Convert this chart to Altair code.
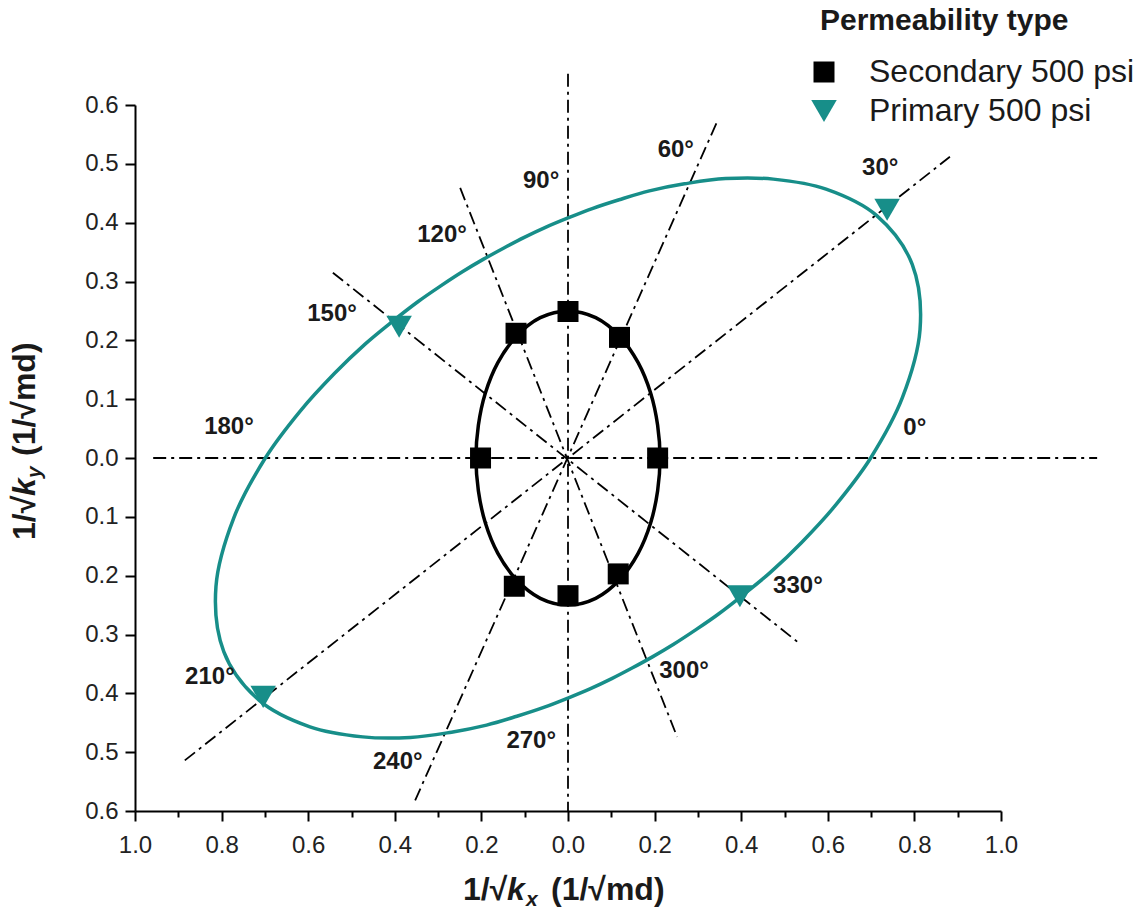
import altair as alt
import pandas as pd

# ---------------- data ----------------
# Secondary 500 psi (black squares)
sec_x = [0.207, 0.119, 0.000, -0.120, -0.202, -0.124, 0.000, 0.116]
sec_y = [0.000, 0.205, 0.249, 0.212, 0.000, -0.218, -0.234, -0.197]

# Primary 500 psi (teal down-triangles)
pri_x = [0.737, -0.390, -0.704, 0.397]
pri_y = [0.422, 0.223, -0.406, -0.235]

# fitted ellipse (teal), upper half then lower half
teal_x = [0.699, 0.772, 0.813, 0.795, 0.713, 0.596, 0.474, 0.364, 0.269, 0.188, 0.118, 0.056,
          0.000, -0.052, -0.101, -0.148, -0.195, -0.243, -0.293, -0.346, -0.404, -0.468, -0.539, -0.617,
          -0.699, -0.772, -0.813, -0.795, -0.713, -0.596, -0.474, -0.364, -0.269, -0.188, -0.118, -0.056,
          0.000, 0.052, 0.101, 0.148, 0.195, 0.243, 0.293, 0.346, 0.404, 0.468, 0.539, 0.617]
teal_y = [0.000, 0.102, 0.218, 0.329, 0.412, 0.457, 0.474, 0.475, 0.466, 0.454, 0.439, 0.424,
          0.408, 0.392, 0.375, 0.357, 0.338, 0.317, 0.293, 0.266, 0.233, 0.194, 0.144, 0.081,
          0.000, -0.102, -0.218, -0.329, -0.412, -0.457, -0.474, -0.475, -0.466, -0.454, -0.439, -0.424,
          -0.408, -0.392, -0.375, -0.357, -0.338, -0.317, -0.293, -0.266, -0.233, -0.194, -0.144, -0.081]

# fitted ellipse (black)
blk_x = [0.2125, 0.207, 0.191, 0.162, 0.119, 0.064, 0.000, -0.064, -0.119, -0.162, -0.191, -0.207,
         -0.2125, -0.207, -0.191, -0.162, -0.119, -0.064, 0.000, 0.064, 0.119, 0.162, 0.191, 0.207]
blk_y = [0.000, 0.0555, 0.110, 0.162, 0.207, 0.2385, 0.250, 0.2385, 0.207, 0.162, 0.110, 0.0555,
         0.000, -0.0555, -0.110, -0.162, -0.207, -0.2385, -0.250, -0.2385, -0.207, -0.162, -0.110, -0.0555]

# direction lines (segment end points)
ray_x1 = [-0.958, 0.000, -0.885, -0.353, -0.249, -0.543]
ray_y1 = [0.000, 0.653, -0.514, -0.582, 0.459, 0.315]
ray_x2 = [1.222, 0.000, 0.882, 0.344, 0.252, 0.536]
ray_y2 = [0.000, -0.600, 0.512, 0.571, -0.474, -0.316]

# angle labels
ang_text = ["0°", "30°", "60°", "90°", "120°", "150°", "180°", "210°", "240°", "270°", "300°", "330°"]
ang_x = [0.801, 0.721, 0.249, -0.062, -0.291, -0.545, -0.783, -0.827, -0.393, -0.085, 0.268, 0.531]
ang_y = [0.051, 0.493, 0.524, 0.471, 0.379, 0.245, 0.053, -0.372, -0.517, -0.481, -0.362, -0.218]

x_ticks = [-1.0, -0.9, -0.8, -0.7, -0.6, -0.5, -0.4, -0.3, -0.2, -0.1, 0.0,
           0.1, 0.2, 0.3, 0.4, 0.5, 0.6, 0.7, 0.8, 0.9, 1.0]
y_ticks = [-0.6, -0.55, -0.5, -0.45, -0.4, -0.35, -0.3, -0.25, -0.2, -0.15, -0.1, -0.05, 0.0,
           0.05, 0.1, 0.15, 0.2, 0.25, 0.3, 0.35, 0.4, 0.45, 0.5, 0.55, 0.6]

series = ["Secondary 500 psi", "Primary 500 psi"]

# ---------------- tables ----------------
pts = pd.DataFrame({
    "x": sec_x + pri_x,
    "y": sec_y + pri_y,
    "type": [series[0]] * len(sec_x) + [series[1]] * len(pri_x),
})
teal = pd.DataFrame({"x": teal_x, "y": teal_y, "i": list(range(len(teal_x)))})
blk = pd.DataFrame({"x": blk_x, "y": blk_y, "i": list(range(len(blk_x)))})
rays = pd.DataFrame({"x1": ray_x1, "y1": ray_y1, "x2": ray_x2, "y2": ray_y2})
angs = pd.DataFrame({"x": ang_x, "y": ang_y, "t": ang_text})

TEAL = "#178e89"
FONT = "Liberation Sans"
W, H = 866, 706

xaxis = alt.Axis(
    values=x_ticks, grid=False, title=None,
    labelExpr="abs(round(datum.value*10)) % 2 == 0 ? format(abs(datum.value), '.1f') : ''",
    tickSize={"condition": {"test": "abs(round(datum.value*10)) % 2 == 0", "value": 10}, "value": 6},
    tickWidth=2, tickColor="black", domainColor="black", domainWidth=2,
    labelFont=FONT, labelFontSize=24, labelColor="#222222", labelPadding=12,
    labelFlush=False, labelOverlap=False,
)
yaxis = alt.Axis(
    values=y_ticks, grid=False, title=None,
    labelExpr="abs(round(datum.value*100)) % 10 == 0 ? format(abs(datum.value), '.1f') : ''",
    tickSize={"condition": {"test": "abs(round(datum.value*100)) % 10 == 0", "value": 10}, "value": 6},
    tickWidth=2, tickColor="black", domainColor="black", domainWidth=2,
    labelFont=FONT, labelFontSize=24, labelColor="#222222", labelPadding=7,
    labelFlush=False, labelOverlap=False,
)
xs = alt.Scale(domain=[-1.0, 1.0], nice=False, zero=False)
ys = alt.Scale(domain=[-0.6, 0.6], nice=False, zero=False)

ray_layer = alt.Chart(rays).mark_rule(
    color="black", strokeWidth=1.8, strokeDash=[13, 5, 3, 5], clip=False
).encode(
    x=alt.X("x1:Q", scale=xs, axis=xaxis),
    y=alt.Y("y1:Q", scale=ys, axis=yaxis),
    x2="x2:Q", y2="y2:Q",
)

teal_layer = alt.Chart(teal).mark_line(
    interpolate="cardinal-closed", color=TEAL, strokeWidth=3.5
).encode(x="x:Q", y="y:Q", order="i:Q")

blk_layer = alt.Chart(blk).mark_line(
    interpolate="cardinal-closed", color="black", strokeWidth=3.5
).encode(x="x:Q", y="y:Q", order="i:Q")

leg = alt.Legend(
    title=None, orient="none", legendX=673, legendY=-49, padding=0,
    labelFont=FONT, labelFontSize=32, labelColor="#1a1a1a", labelOffset=29,
    labelLimit=500, rowPadding=7, symbolStrokeWidth=0,
)
pt_layer = alt.Chart(pts).mark_point(filled=True, opacity=1, strokeWidth=0).encode(
    x="x:Q", y="y:Q",
    color=alt.Color("type:N", scale=alt.Scale(domain=series, range=["black", TEAL]), legend=leg),
    shape=alt.Shape("type:N", scale=alt.Scale(domain=series, range=["square", "triangle-down"]), legend=leg),
    size=alt.Size("type:N", scale=alt.Scale(domain=series, range=[441, 650]), legend=leg),
)

ang_layer = alt.Chart(angs).mark_text(
    font=FONT, fontSize=24, fontWeight="bold", color="#1a1a1a", align="center", baseline="middle"
).encode(x="x:Q", y="y:Q", text="t:N")


def txt(s, x, y, size=32, style="normal", angle=0):
    return alt.Chart(pd.DataFrame({"s": [s]})).mark_text(
        font=FONT, fontSize=size, fontWeight="bold", fontStyle=style, color="#1a1a1a",
        align="left", baseline="alphabetic", angle=angle,
    ).encode(x=alt.value(x), y=alt.value(y), text="s:N")


titles = [
    # x-axis title
    txt("1/√", 328, 795),
    txt("k", 372, 795, style="italic"),
    txt("x", 391, 801, size=21, style="italic"),
    txt("(1/√md)", 416, 795),
    # y-axis title
    txt("1/√", -100, 435, angle=270),
    txt("k", -100, 391, style="italic", angle=270),
    txt("y", -94, 373, size=21, style="italic", angle=270),
    txt("(1/√md)", -100, 351, angle=270),
    # legend title
    txt("Permeability type", 685, -75, size=30),
]

chart = alt.layer(ray_layer, teal_layer, blk_layer, pt_layer, ang_layer, *titles).properties(
    width=W, height=H,
    autosize=alt.AutoSizeParams(type="none"),
    padding={"left": 135, "top": 105, "right": 143, "bottom": 98},
    background="white",
).configure_view(stroke=None)

chart.save("out.html", embed_options={"renderer": "svg", "actions": False})
